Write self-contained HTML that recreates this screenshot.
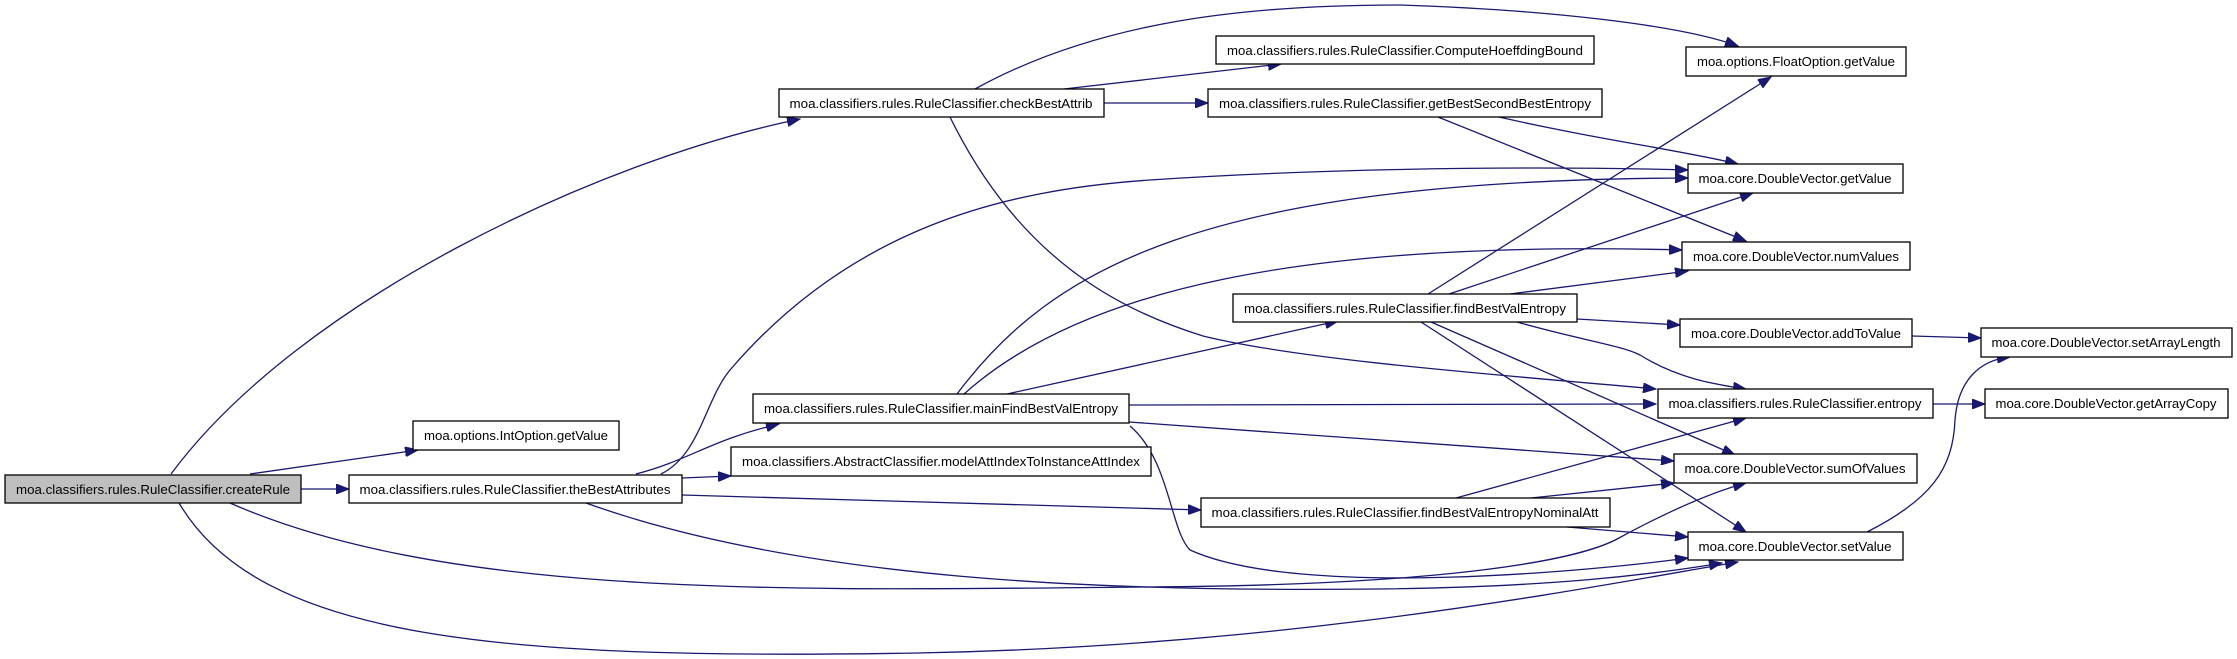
<!DOCTYPE html>
<html><head><meta charset="utf-8"><style>
html,body{margin:0;padding:0;background:#fff;}
svg{display:block;}
text{font-family:"Liberation Sans",sans-serif;font-size:13px;fill:#000;}
.e{fill:none;stroke:#191970;stroke-width:1.3;}
.n{fill:#fff;stroke:#000;stroke-width:1.3;}
</style></head><body>
<svg width="2237" height="659" viewBox="0 0 2237 659" xmlns="http://www.w3.org/2000/svg">
<defs>
<marker id="a" markerUnits="userSpaceOnUse" markerWidth="14" markerHeight="10" refX="13" refY="5" orient="auto">
<path d="M0,0 L13,5 L0,10 z" fill="#191970" stroke="#191970"/>
</marker>
</defs>
<g marker-end="url(#a)">
<path class="e" d="M171,474 C300,300 600,160 800,119"/>
<path class="e" d="M250,474 L418,450"/>
<path class="e" d="M301,489 L349,489"/>
<path class="e" d="M230,503 C450,600 800,590 1148,587 C1450,585 1580,560 1619,538 C1680,505 1720,490 1746,483"/>
<path class="e" d="M179,503 C260,640 500,660 918,653 C1300,646 1600,585 1738,562"/>
<path class="e" d="M636,474 C690,460 710,440 779,424"/>
<path class="e" d="M661,474 C700,455 705,400 730,370 C850,230 1000,190 1150,180 C1300,170 1500,165 1688,170"/>
<path class="e" d="M682,478 L731,476"/>
<path class="e" d="M682,495 L1201,510"/>
<path class="e" d="M586,503 C800,580 1100,592 1378,589 C1550,587 1650,575 1722,563"/>
<path class="e" d="M975,89 C1100,20 1250,5 1400,5 C1550,10 1680,25 1738,46"/>
<path class="e" d="M1064,89 L1281,64"/>
<path class="e" d="M1104,103 L1208,103"/>
<path class="e" d="M950,117 C1020,260 1120,310 1203,336 C1300,360 1500,375 1656,389"/>
<path class="e" d="M1499,117 C1600,140 1680,150 1738,164"/>
<path class="e" d="M1438,117 L1746,241"/>
<path class="e" d="M957,394 C1050,270 1200,180 1688,178"/>
<path class="e" d="M964,394 C1080,290 1300,240 1682,250"/>
<path class="e" d="M1007,394 L1338,321"/>
<path class="e" d="M1129,405 L1656,404"/>
<path class="e" d="M1129,422 L1674,461"/>
<path class="e" d="M1130,426 C1170,460 1170,530 1190,550 C1300,600 1600,570 1688,558"/>
<path class="e" d="M1428,294 L1771,77"/>
<path class="e" d="M1449,294 L1753,193"/>
<path class="e" d="M1510,294 L1688,271"/>
<path class="e" d="M1577,319 L1680,325"/>
<path class="e" d="M1517,322 C1580,340 1620,345 1640,355 C1680,380 1720,385 1746,389"/>
<path class="e" d="M1431,322 L1735,455"/>
<path class="e" d="M1421,322 L1746,532"/>
<path class="e" d="M1456,498 L1746,418"/>
<path class="e" d="M1531,498 L1674,483"/>
<path class="e" d="M1567,527 L1688,537"/>
<path class="e" d="M1912,336 L1981,338"/>
<path class="e" d="M1933,404 L1985,404"/>
<path class="e" d="M1867,532 C1930,500 1953,470 1955,420 C1958,380 1980,360 2010,357"/>
</g>
<rect x="5" y="475" width="296" height="28" fill="#bfbfbf" stroke="#000" stroke-width="1.3"/>
<text x="153" y="494" text-anchor="middle" textLength="274" lengthAdjust="spacingAndGlyphs">moa.classifiers.rules.RuleClassifier.createRule</text>
<rect class="n" x="413" y="421" width="206" height="29"/>
<text x="516" y="440" text-anchor="middle" textLength="184" lengthAdjust="spacingAndGlyphs">moa.options.IntOption.getValue</text>
<rect class="n" x="349" y="475" width="333" height="28"/>
<text x="515" y="494" text-anchor="middle" textLength="311" lengthAdjust="spacingAndGlyphs">moa.classifiers.rules.RuleClassifier.theBestAttributes</text>
<rect class="n" x="779" y="89" width="325" height="28"/>
<text x="941" y="108" text-anchor="middle" textLength="303" lengthAdjust="spacingAndGlyphs">moa.classifiers.rules.RuleClassifier.checkBestAttrib</text>
<rect class="n" x="753" y="394" width="376" height="29"/>
<text x="941" y="413" text-anchor="middle" textLength="354" lengthAdjust="spacingAndGlyphs">moa.classifiers.rules.RuleClassifier.mainFindBestValEntropy</text>
<rect class="n" x="731" y="447" width="420" height="29"/>
<text x="941" y="466" text-anchor="middle" textLength="398" lengthAdjust="spacingAndGlyphs">moa.classifiers.AbstractClassifier.modelAttIndexToInstanceAttIndex</text>
<rect class="n" x="1216" y="36" width="378" height="28"/>
<text x="1405" y="55" text-anchor="middle" textLength="356" lengthAdjust="spacingAndGlyphs">moa.classifiers.rules.RuleClassifier.ComputeHoeffdingBound</text>
<rect class="n" x="1208" y="89" width="394" height="28"/>
<text x="1405" y="108" text-anchor="middle" textLength="372" lengthAdjust="spacingAndGlyphs">moa.classifiers.rules.RuleClassifier.getBestSecondBestEntropy</text>
<rect class="n" x="1686" y="47" width="220" height="29"/>
<text x="1796" y="66" text-anchor="middle" textLength="198" lengthAdjust="spacingAndGlyphs">moa.options.FloatOption.getValue</text>
<rect class="n" x="1688" y="164" width="215" height="29"/>
<text x="1795" y="183" text-anchor="middle" textLength="193" lengthAdjust="spacingAndGlyphs">moa.core.DoubleVector.getValue</text>
<rect class="n" x="1682" y="242" width="228" height="28"/>
<text x="1796" y="261" text-anchor="middle" textLength="206" lengthAdjust="spacingAndGlyphs">moa.core.DoubleVector.numValues</text>
<rect class="n" x="1233" y="294" width="344" height="28"/>
<text x="1405" y="313" text-anchor="middle" textLength="322" lengthAdjust="spacingAndGlyphs">moa.classifiers.rules.RuleClassifier.findBestValEntropy</text>
<rect class="n" x="1680" y="319" width="232" height="28"/>
<text x="1796" y="338" text-anchor="middle" textLength="210" lengthAdjust="spacingAndGlyphs">moa.core.DoubleVector.addToValue</text>
<rect class="n" x="1981" y="328" width="251" height="29"/>
<text x="2106" y="347" text-anchor="middle" textLength="229" lengthAdjust="spacingAndGlyphs">moa.core.DoubleVector.setArrayLength</text>
<rect class="n" x="1658" y="389" width="275" height="29"/>
<text x="1795" y="408" text-anchor="middle" textLength="253" lengthAdjust="spacingAndGlyphs">moa.classifiers.rules.RuleClassifier.entropy</text>
<rect class="n" x="1985" y="389" width="243" height="29"/>
<text x="2106" y="408" text-anchor="middle" textLength="221" lengthAdjust="spacingAndGlyphs">moa.core.DoubleVector.getArrayCopy</text>
<rect class="n" x="1674" y="454" width="243" height="29"/>
<text x="1795" y="473" text-anchor="middle" textLength="221" lengthAdjust="spacingAndGlyphs">moa.core.DoubleVector.sumOfValues</text>
<rect class="n" x="1201" y="498" width="409" height="29"/>
<text x="1405" y="517" text-anchor="middle" textLength="387" lengthAdjust="spacingAndGlyphs">moa.classifiers.rules.RuleClassifier.findBestValEntropyNominalAtt</text>
<rect class="n" x="1688" y="532" width="215" height="28"/>
<text x="1795" y="551" text-anchor="middle" textLength="193" lengthAdjust="spacingAndGlyphs">moa.core.DoubleVector.setValue</text>
</svg>
</body></html>
